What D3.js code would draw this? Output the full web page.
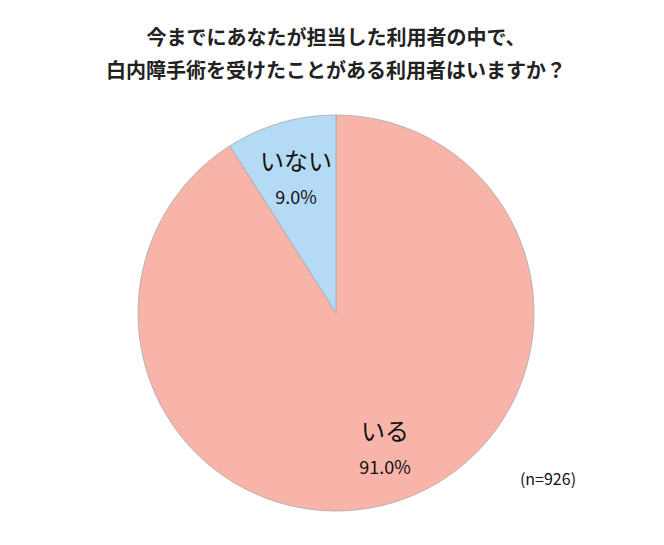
<!DOCTYPE html><html><head><meta charset="utf-8"><script src="https://d3js.org/d3.v7.min.js"></script>
<style>body{margin:0;background:#fff}</style></head><body><svg id="c" width="664" height="545"></svg>
<script>
const categories=["いる","いない"];
const values=[91.0,9.0];
const colors=["#F8B4A8","#B4DAF6"];
const titleLines=["今までにあなたが担当した利用者の中で、","白内障手術を受けたことがある利用者はいますか？"];
const note="(n=926)";
const svg=d3.select("#c");
const font="'Noto Sans CJK JP',sans-serif";
svg.selectAll("text.t").data(titleLines).enter().append("text").attr("x",336).attr("y",(d,i)=>45+i*33)
 .attr("text-anchor","middle").attr("font-family",font).attr("font-weight","bold").attr("font-size",20).attr("fill","#222").text(d=>d);
const cx=336,cy=313,r=198;
const pie=d3.pie().sort(null).value(d=>d);
const arcs=pie(values);
const arc=d3.arc().innerRadius(0).outerRadius(r);
const g=svg.append("g").attr("transform",`translate(${cx},${cy})`);
g.selectAll("path").data(arcs).enter().append("path").attr("d",arc).attr("fill",(d,i)=>colors[i]).attr("stroke","#aaa").attr("stroke-width",0.8);
const labelPos=[[49,127],[-40,-143]];
arcs.forEach((a,i)=>{
 const [x,y]=labelPos[i];
 g.append("text").attr("x",x).attr("y",y).attr("text-anchor","middle").attr("font-family",font).attr("font-size",24).attr("fill","#111").text(categories[i]);
 g.append("text").attr("x",x).attr("y",y+34).attr("text-anchor","middle").attr("font-family",font).attr("font-size",18).attr("fill","#111").text(values[i].toFixed(1)+"%");
});
svg.append("text").attr("x",548).attr("y",485).attr("text-anchor","middle").attr("font-family",font).attr("font-size",16).attr("fill","#111").text(note);
</script></body></html>
